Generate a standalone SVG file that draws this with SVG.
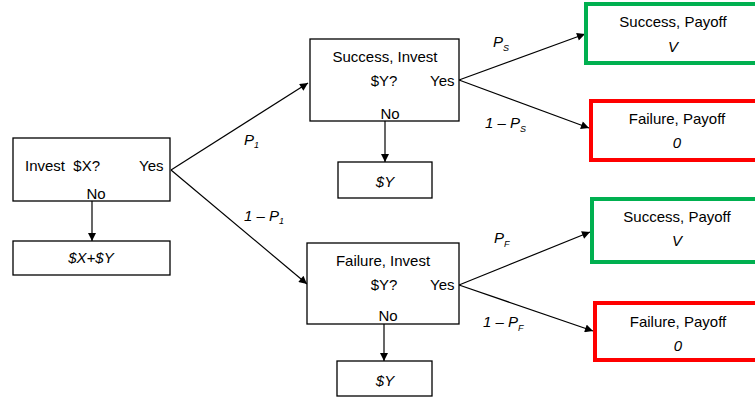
<svg xmlns="http://www.w3.org/2000/svg" width="755" height="398" viewBox="0 0 755 398">
<defs>
<style>
text{font-family:"Liberation Sans",Arial,sans-serif;font-size:15px;fill:#000}
.it{font-style:italic}
.m{text-anchor:middle}
.sub{font-size:9px;font-style:italic}
.box{fill:#fff;stroke:#000;stroke-width:1.3}
.g{fill:#fff;stroke:#00B050;stroke-width:4}
.r{fill:#fff;stroke:#FF0000;stroke-width:4}
.c{stroke:#000;stroke-width:1.2;fill:none;marker-end:url(#ah)}
</style>
<marker id="ah" viewBox="0 0 10 10" refX="10" refY="5" markerWidth="10" markerHeight="8" markerUnits="userSpaceOnUse" orient="auto">
<path d="M0,0 L10,5 L0,10 z" fill="#000"/>
</marker>
</defs>
<rect width="755" height="398" fill="#fff"/>
<g id="connectors">
<line class="c" x1="92" y1="201" x2="92" y2="241"/>
<line class="c" x1="385" y1="121" x2="385" y2="162"/>
<line class="c" x1="384" y1="324" x2="384" y2="361"/>
<line class="c" x1="171" y1="170" x2="308" y2="83"/>
<line class="c" x1="171" y1="170" x2="307" y2="284"/>
<line class="c" x1="459" y1="80" x2="585" y2="34"/>
<line class="c" x1="459" y1="80" x2="589" y2="128"/>
<line class="c" x1="459" y1="285" x2="590" y2="232"/>
<line class="c" x1="459" y1="285" x2="593" y2="331"/>
<text class="it" x="244" y="145">P<tspan class="sub" dy="3">1</tspan></text>
<text class="it" x="244" y="221">1 – P<tspan class="sub" dy="3">1</tspan></text>
<text class="it" x="493" y="47">P<tspan class="sub" dy="4">S</tspan></text>
<text class="it" x="485" y="128">1 – P<tspan class="sub" dy="4">S</tspan></text>
<text class="it" x="494" y="243">P<tspan class="sub" dy="4">F</tspan></text>
<text class="it" x="483" y="327">1 – P<tspan class="sub" dy="4">F</tspan></text>
</g>
<g id="invest-x">
<rect class="box" x="13" y="138" width="157" height="63"/>
<text x="25" y="171" xml:space="preserve">Invest  $X?</text>
<text x="139" y="171">Yes</text>
<text class="m" x="96" y="199">No</text>
</g>
<g id="payoff-xy">
<rect class="box" x="13" y="241" width="157" height="34"/>
<text class="it m" x="91" y="263">$X+$Y</text>
</g>
<g id="success-invest">
<rect class="box" x="310" y="39" width="149" height="82"/>
<text class="m" x="385" y="62">Success, Invest</text>
<text class="m" x="384" y="86">$Y?</text>
<text x="430" y="86">Yes</text>
<text class="m" x="390" y="119">No</text>
</g>
<g id="success-y">
<rect class="box" x="338" y="162" width="94" height="36"/>
<text class="it m" x="385" y="187">$Y</text>
</g>
<g id="failure-invest">
<rect class="box" x="307" y="243" width="152" height="81"/>
<text class="m" x="383" y="266">Failure, Invest</text>
<text class="m" x="384" y="290">$Y?</text>
<text x="430" y="290">Yes</text>
<text class="m" x="388" y="321">No</text>
</g>
<g id="failure-y">
<rect class="box" x="337" y="361" width="95" height="35"/>
<text class="it m" x="385" y="386">$Y</text>
</g>
<g id="ss-payoff">
<rect class="g" x="586" y="4" width="190" height="59"/>
<text class="m" x="673" y="27">Success, Payoff</text>
<text class="it m" x="673" y="52">V</text>
</g>
<g id="sf-payoff">
<rect class="r" x="591" y="101" width="190" height="59"/>
<text class="m" x="677" y="124">Failure, Payoff</text>
<text class="it m" x="677" y="148">0</text>
</g>
<g id="fs-payoff">
<rect class="g" x="592" y="199" width="190" height="63"/>
<text class="m" x="677" y="222">Success, Payoff</text>
<text class="it m" x="677" y="246">V</text>
</g>
<g id="ff-payoff">
<rect class="r" x="595" y="303" width="190" height="57"/>
<text class="m" x="678" y="327">Failure, Payoff</text>
<text class="it m" x="678" y="351">0</text>
</g>
</svg>
